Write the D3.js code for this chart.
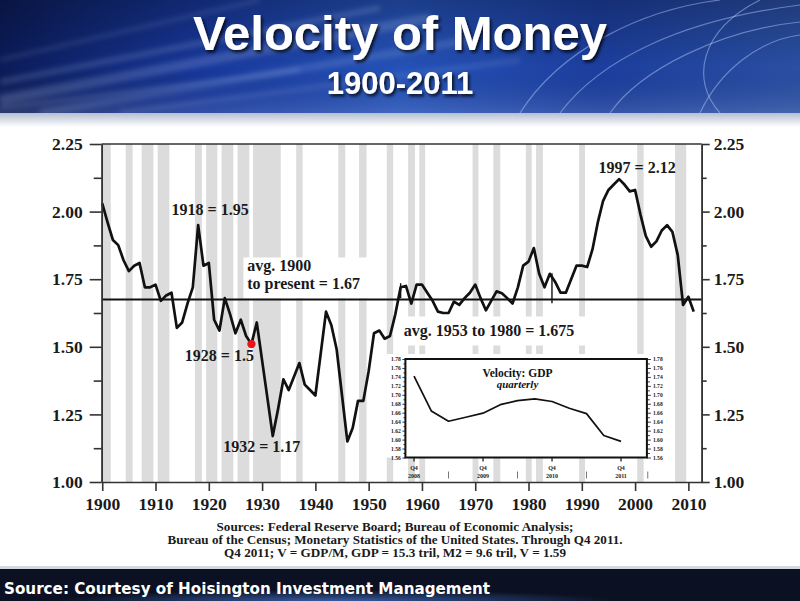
<!DOCTYPE html>
<html>
<head>
<meta charset="utf-8">
<title>Velocity of Money 1900-2011</title>
<script src="https://cdn.jsdelivr.net/npm/d3@7"></script>
<style>
  body { margin: 0; background: #fff; }
  svg { display: block; }
</style>
</head>
<body>
<div id="chart"></div>
<script>
// ---- data ----
var years = d3.range(1900, 2012);
var velocity = [
  2.03, 1.96, 1.895, 1.876, 1.82, 1.78, 1.80, 1.81, 1.72, 1.72,   // 1900s
  1.73, 1.67, 1.69, 1.70, 1.57, 1.59, 1.66, 1.72, 1.95, 1.80,     // 1910s
  1.81, 1.60, 1.56, 1.68, 1.62, 1.55, 1.60, 1.54, 1.51, 1.59,     // 1920s
  1.45, 1.31, 1.17, 1.27, 1.38, 1.34, 1.39, 1.44, 1.36, 1.34,     // 1930s
  1.32, 1.475, 1.63, 1.58, 1.49, 1.32, 1.15, 1.20, 1.30, 1.30,    // 1940s
  1.41, 1.55, 1.56, 1.53, 1.54, 1.62, 1.72, 1.725, 1.66, 1.73,    // 1950s
  1.73, 1.70, 1.67, 1.63, 1.625, 1.625, 1.667, 1.655, 1.68, 1.70, // 1960s
  1.73, 1.68, 1.635, 1.67, 1.705, 1.698, 1.68, 1.66, 1.72, 1.80,  // 1970s
  1.815, 1.865, 1.77, 1.72, 1.77, 1.74, 1.70, 1.70, 1.75, 1.80,   // 1980s
  1.80, 1.795, 1.86, 1.96, 2.04, 2.08, 2.10, 2.12, 2.10, 2.075,   // 1990s
  2.08, 1.99, 1.91, 1.87, 1.89, 1.93, 1.95, 1.925, 1.84, 1.655,   // 2000s
  1.685, 1.63                                                     // 2010-11
];
var recessions = [
  [1900.1, 1901.6], [1904.4, 1905.7], [1907.4, 1909.6], [1910.4, 1912.6],
  [1917.4, 1918.7], [1919.5, 1921.6], [1922.4, 1924.6], [1925.4, 1927.6],
  [1928.3, 1933.5], [1936.4, 1937.6], [1944.3, 1945.6], [1948.2, 1949.6],
  [1953.4, 1954.6], [1957.4, 1958.7], [1959.5, 1960.6], [1969.5, 1970.6],
  [1973.4, 1974.7], [1979.5, 1980.6], [1981.4, 1982.7], [1989.5, 1990.6],
  [2000.4, 2001.6], [2007.5, 2009.6]
];
var yMajor = [1.00, 1.25, 1.50, 1.75, 2.00, 2.25];
var yMinor = [1.125, 1.375, 1.625, 1.875, 2.125];
var xTicks = [1900, 1910, 1920, 1930, 1940, 1950, 1960, 1970, 1980, 1990, 2000, 2010];
var avgValue = 1.675;
// little vertical marks on the average line: [year, top, bottom]
var avgMarks = [[1956.0, 1.735, 1.68], [1984.4, 1.772, 1.661]];
var callouts = [
  { year: 1918, text: "1918 = 1.95" },
  { year: 1928, text: "1928 = 1.5" },
  { year: 1932, text: "1932 = 1.17" },
  { year: 1997, text: "1997 = 2.12" }
];

// inset: quarterly velocity Q4 2008 .. Q4 2011
var quarters = ["Q4 2008", "Q1 2009", "Q2 2009", "Q3 2009", "Q4 2009", "Q1 2010", "Q2 2010",
                "Q3 2010", "Q4 2010", "Q1 2011", "Q2 2011", "Q3 2011", "Q4 2011"];
var quarterly = [1.742, 1.664, 1.641, 1.650, 1.659, 1.678, 1.687, 1.691, 1.685, 1.670, 1.658, 1.609, 1.596];
var insetTicks = [1.56, 1.58, 1.60, 1.62, 1.64, 1.66, 1.68, 1.70, 1.72, 1.74, 1.76, 1.78];
var insetYears = ["2008", "2009", "2010", "2011"];

var sources = [
  "Sources: Federal Reserve Board; Bureau of Economic Analysis;",
  "Bureau of the Census; Monetary Statistics of the United States. Through Q4 2011.",
  "Q4 2011; V = GDP/M, GDP = 15.3 tril, M2 = 9.6 tril, V = 1.59"
];
var sourceWidths = [357, 455, 342];

// ---- setup ----
var W = 800, H = 601;
var serif = "'Liberation Serif', 'Times New Roman', serif";
var sans = "'Liberation Sans', Arial, sans-serif";

var svg = d3.select("#chart").append("svg")
  .attr("width", W)
  .attr("height", H);

var defs = svg.append("defs");

var hg = defs.append("linearGradient").attr("id", "headGrad")
  .attr("x1", 0).attr("y1", 0).attr("x2", 1).attr("y2", 0);
hg.append("stop").attr("offset", "0%").attr("stop-color", "#0b1b58");
hg.append("stop").attr("offset", "25%").attr("stop-color", "#17379a");
hg.append("stop").attr("offset", "50%").attr("stop-color", "#2552b8");
hg.append("stop").attr("offset", "75%").attr("stop-color", "#1c3e9e");
hg.append("stop").attr("offset", "100%").attr("stop-color", "#2a4fa3");

var hv = defs.append("linearGradient").attr("id", "headShade")
  .attr("x1", 0).attr("y1", 0).attr("x2", 0).attr("y2", 1);
hv.append("stop").attr("offset", "0%").attr("stop-color", "#000").attr("stop-opacity", 0.25);
hv.append("stop").attr("offset", "60%").attr("stop-color", "#000").attr("stop-opacity", 0);
hv.append("stop").attr("offset", "100%").attr("stop-color", "#fff").attr("stop-opacity", 0.12);

var band = defs.append("linearGradient").attr("id", "band")
  .attr("x1", 0).attr("y1", 0).attr("x2", 0).attr("y2", 1);
band.append("stop").attr("offset", "0%").attr("stop-color", "#b4bfd0");
band.append("stop").attr("offset", "100%").attr("stop-color", "#ffffff");

var fg = defs.append("radialGradient").attr("id", "footGlow")
  .attr("cx", 0.42).attr("cy", 1).attr("r", 0.35);
fg.append("stop").attr("offset", "0%").attr("stop-color", "#3c63b0").attr("stop-opacity", 0.9);
fg.append("stop").attr("offset", "100%").attr("stop-color", "#3c63b0").attr("stop-opacity", 0);

var blur = defs.append("filter").attr("id", "blur");
blur.append("feGaussianBlur").attr("stdDeviation", 2.5);

var shadow = defs.append("filter").attr("id", "shadow")
  .attr("x", "-10%").attr("y", "-20%").attr("width", "120%").attr("height", "140%");
shadow.append("feDropShadow").attr("dx", 2).attr("dy", 2.5).attr("stdDeviation", 1.5)
  .attr("flood-color", "#000").attr("flood-opacity", 0.75);

// ---- header ----
svg.append("rect").attr("width", W).attr("height", 113).attr("fill", "url(#headGrad)");
svg.append("rect").attr("width", W).attr("height", 113).attr("fill", "url(#headShade)");

var streaks = svg.append("g").attr("filter", "url(#blur)");
[
  ["M0,100 L430,18", 10, 0.18], ["M0,82 L380,8", 6, 0.16], ["M40,113 L470,40", 8, 0.14],
  ["M0,60 L260,0", 4, 0.12], ["M120,113 L520,60", 5, 0.12], ["M0,108 L300,70", 3, 0.2]
].forEach(function(s) {
  streaks.append("path").attr("d", s[0]).attr("stroke", "#cfe0ff")
    .attr("stroke-width", s[1]).attr("stroke-opacity", s[2]).attr("fill", "none");
});
var arcs = svg.append("g");
[
  "M560,113 C600,60 680,20 800,5", "M610,113 C640,70 720,30 800,22",
  "M700,113 C720,70 760,40 800,35", "M520,113 C560,50 640,10 720,0",
  "M760,0 C700,30 690,80 720,113"
].forEach(function(d) {
  arcs.append("path").attr("d", d).attr("stroke", "#bcd2ff")
    .attr("stroke-width", 1.2).attr("stroke-opacity", 0.45).attr("fill", "none");
});

svg.append("text")
  .attr("x", 400).attr("y", 50)
  .attr("text-anchor", "middle")
  .attr("font-family", sans).attr("font-weight", "bold").attr("font-size", 49)
  .attr("fill", "#fff").attr("filter", "url(#shadow)")
  .text("Velocity of Money");
svg.append("text")
  .attr("x", 400).attr("y", 94)
  .attr("text-anchor", "middle")
  .attr("font-family", sans).attr("font-weight", "bold").attr("font-size", 31)
  .attr("fill", "#fff").attr("filter", "url(#shadow)")
  .text("1900-2011");

svg.append("rect").attr("y", 113).attr("width", W).attr("height", 14).attr("fill", "url(#band)");

// ---- footer ----
svg.append("rect").attr("y", 566).attr("width", W).attr("height", 3).attr("fill", "#d4d8df");
svg.append("rect").attr("y", 569).attr("width", W).attr("height", H - 569).attr("fill", "#0b1122");
svg.append("rect").attr("y", 569).attr("width", W).attr("height", H - 569).attr("fill", "url(#footGlow)");
svg.append("text")
  .attr("x", 4).attr("y", 594)
  .attr("font-family", "'DejaVu Sans', Verdana, sans-serif").attr("font-weight", "bold").attr("font-size", 15)
  .attr("textLength", 486).attr("lengthAdjust", "spacingAndGlyphs")
  .attr("fill", "#fff")
  .text("Source: Courtesy of Hoisington Investment Management");

// ---- main chart ----
var x = d3.scaleLinear().domain([1899.9, 2012.5]).range([101.7, 701.7]);
var y = d3.scaleLinear().domain([1.0, 2.25]).range([482, 144]);

var plot = svg.append("g");

plot.selectAll(".rec")
  .data(recessions)
  .enter()
  .append("rect")
  .attr("class", "rec")
  .attr("x", function(d) { return x(d[0]); })
  .attr("width", function(d) { return x(d[1]) - x(d[0]); })
  .attr("y", y(2.25))
  .attr("height", y(1.0) - y(2.25))
  .attr("fill", "#dcdcdc");

// white boxes behind the average labels
plot.append("rect")
  .attr("x", x(1926.5)).attr("y", y(avgValue) - 42)
  .attr("width", x(1951.5) - x(1926.5)).attr("height", 41)
  .attr("fill", "#fff");
plot.append("rect")
  .attr("x", x(1954.9)).attr("y", y(avgValue) + 17)
  .attr("width", x(1991.5) - x(1954.9)).attr("height", 29)
  .attr("fill", "#fff");

// average line and its marks
plot.append("line")
  .attr("x1", x.range()[0]).attr("x2", x.range()[1])
  .attr("y1", y(avgValue)).attr("y2", y(avgValue))
  .attr("stroke", "#111").attr("stroke-width", 2);
plot.selectAll(".mark")
  .data(avgMarks)
  .enter()
  .append("line")
  .attr("x1", function(d) { return x(d[0]); })
  .attr("x2", function(d) { return x(d[0]); })
  .attr("y1", function(d) { return y(d[1]); })
  .attr("y2", function(d) { return y(d[2]); })
  .attr("stroke", "#111").attr("stroke-width", 1.4);

var series = years.map(function(yr, i) { return { year: yr, v: velocity[i] }; });

plot.append("path")
  .datum(series)
  .attr("d", d3.line()
    .x(function(d) { return x(d.year); })
    .y(function(d) { return y(d.v); }))
  .attr("fill", "none")
  .attr("stroke", "#111")
  .attr("stroke-width", 2.7)
  .attr("stroke-linejoin", "round");

// 1928 dot
plot.append("circle")
  .attr("cx", x(1928)).attr("cy", y(velocity[28]))
  .attr("r", 4.2)
  .attr("fill", "#e8141c");

// frame top
plot.append("line")
  .attr("x1", x.range()[0]).attr("x2", x.range()[1])
  .attr("y1", y(2.25)).attr("y2", y(2.25))
  .attr("stroke", "#333").attr("stroke-width", 1.6);

// axes
function styleAxis(g, size) {
  g.selectAll("text")
    .attr("font-family", serif)
    .attr("font-weight", "bold")
    .attr("font-size", size)
    .attr("fill", "#1a1a1a");
  g.selectAll("line").attr("stroke", "#333").attr("stroke-width", 1.6);
  g.select(".domain").attr("stroke", "#333").attr("stroke-width", 1.6);
}

var fmt = d3.format(".2f");

svg.append("g")
  .attr("transform", "translate(" + x.range()[0] + ",0)")
  .call(d3.axisLeft(y).tickValues(yMajor).tickFormat(fmt).tickSize(12).tickSizeOuter(0).tickPadding(7))
  .call(styleAxis, 17.5);
svg.append("g")
  .attr("transform", "translate(" + x.range()[0] + ",0)")
  .call(d3.axisLeft(y).tickValues(yMinor).tickFormat("").tickSize(8).tickSizeOuter(0))
  .call(styleAxis, 17.5);
svg.append("g")
  .attr("transform", "translate(" + x.range()[1] + ",0)")
  .call(d3.axisRight(y).tickValues(yMajor).tickFormat(fmt).tickSize(8).tickSizeOuter(0).tickPadding(4))
  .call(styleAxis, 17.5);
svg.append("g")
  .attr("transform", "translate(" + x.range()[1] + ",0)")
  .call(d3.axisRight(y).tickValues(yMinor).tickFormat("").tickSize(5).tickSizeOuter(0))
  .call(styleAxis, 17.5);
svg.append("g")
  .attr("transform", "translate(0," + y(1.0) + ")")
  .call(d3.axisBottom(x).tickValues(xTicks).tickFormat(d3.format("d")).tickSize(9).tickSizeOuter(0).tickPadding(7))
  .call(styleAxis, 17.5);

// callouts, placed next to the point they describe
var offsets = { 1918: [12, -10], 1928: [-32, 17], 1932: [-11, 16], 1997: [18, -6] };
svg.selectAll(".callout")
  .data(callouts)
  .enter()
  .append("text")
  .attr("class", "callout")
  .attr("x", function(d) { return x(d.year) + offsets[d.year][0]; })
  .attr("y", function(d) { return y(velocity[d.year - 1900]) + offsets[d.year][1]; })
  .attr("text-anchor", "middle")
  .attr("font-family", serif).attr("font-weight", "bold").attr("font-size", 16)
  .attr("fill", "#1a1a1a")
  .text(function(d) { return d.text; });

var avgLab = svg.append("text")
  .attr("font-family", serif).attr("font-weight", "bold").attr("font-size", 16)
  .attr("fill", "#1a1a1a");
avgLab.append("tspan").attr("x", x(1927.2)).attr("y", y(avgValue) - 28).text("avg. 1900");
avgLab.append("tspan").attr("x", x(1927.2)).attr("y", y(avgValue) - 10).text("to present = 1.67");

svg.append("text")
  .attr("x", x(1956.6)).attr("y", y(avgValue) + 37)
  .attr("font-family", serif).attr("font-weight", "bold").attr("font-size", 16)
  .attr("fill", "#1a1a1a")
  .text("avg. 1953 to 1980 = 1.675");

// ---- inset ----
var ix = d3.scaleLinear().domain([-0.5, 13.5]).range([405.4, 646.9]);
var iy = d3.scaleLinear().domain([1.56, 1.78]).range([457.5, 359]);

var inset = svg.append("g");
inset.append("rect")
  .attr("x", ix(-0.5) - 19).attr("y", iy(1.78) - 5)
  .attr("width", ix(13.5) - ix(-0.5) + 40).attr("height", iy(1.56) - iy(1.78) + 5)
  .attr("fill", "#fff");

function styleInset(g) {
  g.selectAll("text")
    .attr("font-family", serif).attr("font-weight", "bold").attr("font-size", 5.6)
    .attr("fill", "#222");
  g.selectAll("line").attr("stroke", "#222").attr("stroke-width", 0.9);
  g.select(".domain").remove();
}
var insetMinor = insetTicks.slice(0, -1).map(function(v) { return v + 0.01; });
inset.append("g").attr("transform", "translate(" + ix(-0.5) + ",0)")
  .call(d3.axisLeft(iy).tickValues(insetTicks).tickFormat(fmt).tickSize(3).tickPadding(1.5))
  .call(styleInset);
inset.append("g").attr("transform", "translate(" + ix(-0.5) + ",0)")
  .call(d3.axisLeft(iy).tickValues(insetMinor).tickFormat("").tickSize(2))
  .call(styleInset);
inset.append("g").attr("transform", "translate(" + ix(13.5) + ",0)")
  .call(d3.axisRight(iy).tickValues(insetTicks).tickFormat(fmt).tickSize(4).tickPadding(2))
  .call(styleInset);
inset.append("g").attr("transform", "translate(" + ix(13.5) + ",0)")
  .call(d3.axisRight(iy).tickValues(insetMinor).tickFormat("").tickSize(3))
  .call(styleInset);

inset.append("rect")
  .attr("x", ix(-0.5)).attr("y", iy(1.78))
  .attr("width", ix(13.5) - ix(-0.5)).attr("height", iy(1.56) - iy(1.78))
  .attr("fill", "none").attr("stroke", "#111").attr("stroke-width", 2);

inset.append("path")
  .datum(quarterly)
  .attr("d", d3.line()
    .x(function(d, i) { return ix(i); })
    .y(function(d) { return iy(d); }))
  .attr("fill", "none").attr("stroke", "#111").attr("stroke-width", 1.7)
  .attr("stroke-linejoin", "round");

inset.append("text")
  .attr("x", ix(6)).attr("y", 376.5)
  .attr("text-anchor", "middle")
  .attr("font-family", serif).attr("font-weight", "bold").attr("font-size", 11.5)
  .attr("fill", "#111")
  .text("Velocity: GDP");
inset.append("text")
  .attr("x", ix(6)).attr("y", 387.5)
  .attr("text-anchor", "middle")
  .attr("font-family", serif).attr("font-weight", "bold").attr("font-style", "italic")
  .attr("font-size", 11)
  .attr("fill", "#111")
  .text("quarterly");

// quarter labels under the inset
var q4 = insetYears.map(function(yr) { return quarters.indexOf("Q4 " + yr); });
inset.selectAll(".qtick")
  .data(q4)
  .enter()
  .append("line")
  .attr("x1", function(d) { return ix(d); }).attr("x2", function(d) { return ix(d); })
  .attr("y1", iy(1.56)).attr("y2", iy(1.56) + 4)
  .attr("stroke", "#111").attr("stroke-width", 1.2);
inset.selectAll(".qlab")
  .data(q4)
  .enter()
  .append("text")
  .attr("x", function(d) { return ix(d); })
  .attr("y", iy(1.56) + 12)
  .attr("text-anchor", "middle")
  .attr("font-family", serif).attr("font-weight", "bold").attr("font-size", 6)
  .attr("fill", "#222")
  .text("Q4");
inset.selectAll(".qyear")
  .data(q4)
  .enter()
  .append("text")
  .attr("x", function(d) { return ix(d); })
  .attr("y", iy(1.56) + 20)
  .attr("text-anchor", "middle")
  .attr("font-family", serif).attr("font-weight", "bold").attr("font-size", 6)
  .attr("fill", "#222")
  .text(function(d, i) { return insetYears[i]; });
inset.selectAll(".qsep")
  .data([2, 6, 10, 13.55])
  .enter()
  .append("line")
  .attr("x1", function(d) { return ix(d); }).attr("x2", function(d) { return ix(d); })
  .attr("y1", iy(1.56) + 14).attr("y2", iy(1.56) + 21)
  .attr("stroke", "#777").attr("stroke-width", 1);

// ---- sources ----
svg.selectAll(".src")
  .data(sources)
  .enter()
  .append("text")
  .attr("x", 395)
  .attr("y", function(d, i) { return 530.5 + i * 13.4; })
  .attr("text-anchor", "middle")
  .attr("font-family", serif).attr("font-weight", "bold").attr("font-size", 12)
  .attr("textLength", function(d, i) { return sourceWidths[i]; })
  .attr("lengthAdjust", "spacingAndGlyphs")
  .attr("fill", "#1a1a1a")
  .text(function(d) { return d; });
</script>
</body>
</html>
